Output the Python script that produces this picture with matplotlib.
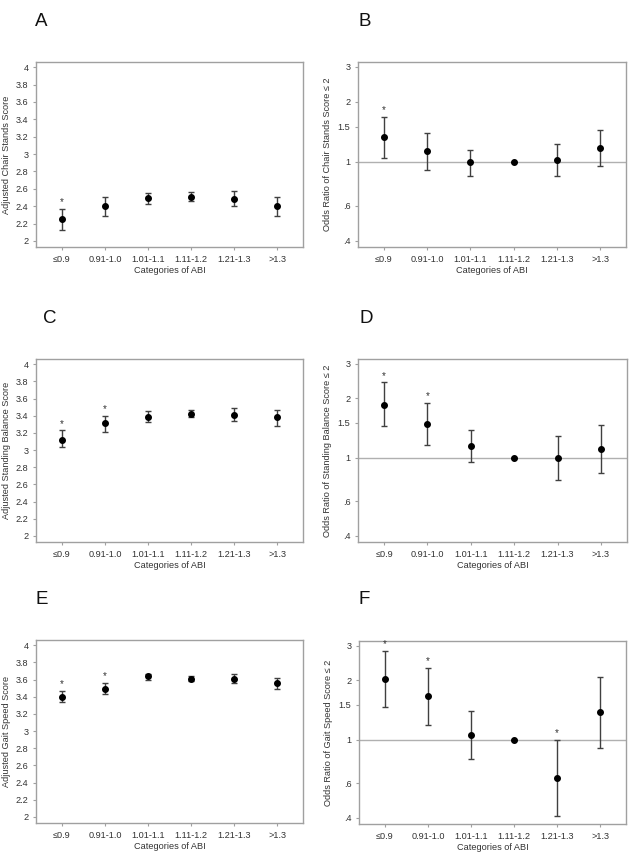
import matplotlib
matplotlib.use("Agg")
import matplotlib.pyplot as plt
import matplotlib.ticker as mticker
import numpy as np

plt.rcParams['font.family'] = ['Liberation Sans', 'DejaVu Sans']

categories = ["≤0.9", "0.91-1.0", "1.01-1.1", "1.11-1.2", "1.21-1.3", ">1.3"]

# Panel A: adjusted chair stands score
chair_mean = [2.25, 2.40, 2.49, 2.51, 2.48, 2.40]
chair_lo = [2.13, 2.29, 2.43, 2.46, 2.40, 2.29]
chair_hi = [2.37, 2.50, 2.55, 2.56, 2.57, 2.50]
chair_sig = [1, 0, 0, 0, 0, 0]

# Panel B: odds ratio chair stands score <= 2
chair_or = [1.33, 1.13, 0.99, 1.00, 1.02, 1.17]
chair_or_lo = [1.04, 0.91, 0.85, 1.00, 0.85, 0.95]
chair_or_hi = [1.68, 1.40, 1.14, 1.00, 1.22, 1.45]
chair_or_sig = [1, 0, 0, 0, 0, 0]

# Panel C: adjusted standing balance score
bal_mean = [3.12, 3.31, 3.39, 3.42, 3.41, 3.38]
bal_lo = [3.03, 3.21, 3.33, 3.38, 3.34, 3.28]
bal_hi = [3.23, 3.40, 3.45, 3.47, 3.49, 3.47]
bal_sig = [1, 1, 0, 0, 0, 0]

# Panel D: odds ratio standing balance score <= 2
bal_or = [1.86, 1.48, 1.15, 1.00, 0.99, 1.10]
bal_or_lo = [1.44, 1.16, 0.95, 1.00, 0.77, 0.83]
bal_or_hi = [2.42, 1.90, 1.38, 1.00, 1.28, 1.46]
bal_or_sig = [1, 1, 0, 0, 0, 0]

# Panel E: adjusted gait speed score
gait_mean = [3.40, 3.49, 3.64, 3.61, 3.61, 3.56]
gait_lo = [3.335, 3.43, 3.60, 3.58, 3.56, 3.49]
gait_hi = [3.47, 3.56, 3.67, 3.64, 3.66, 3.62]
gait_sig = [1, 1, 0, 0, 0, 0]

# Panel F: odds ratio gait speed score <= 2
gait_or = [2.02, 1.66, 1.06, 1.00, 0.64, 1.38]
gait_or_lo = [1.46, 1.19, 0.80, 1.00, 0.41, 0.91]
gait_or_hi = [2.83, 2.32, 1.39, 1.00, 1.00, 2.08]
gait_or_sig = [1, 1, 0, 0, 1, 0]

score_ticks = [2, 2.2, 2.4, 2.6, 2.8, 3, 3.2, 3.4, 3.6, 3.8, 4]
score_ticklabels = ["2", "2.2", "2.4", "2.6", "2.8", "3", "3.2", "3.4", "3.6", "3.8", "4"]
or_ticks = [0.4, 0.6, 1, 1.5, 2, 3]
or_ticklabels = [".4", ".6", "1", "1.5", "2", "3"]

TEXT = "#333333"
EDGE = "#a0a0a0"
BAR = "#404040"
FS = 6.6

W, H = 634, 867
fig = plt.figure(figsize=(W / 100, H / 100), dpi=100)


def make_ax(x0, x1, y0, y1):
    return fig.add_axes([x0 / W, 1 - y1 / H, (x1 - x0) / W, (y1 - y0) / H])


def style(ax):
    for s in ax.spines.values():
        s.set_color(EDGE)
        s.set_linewidth(1.0)
    ax.tick_params(axis='both', colors=EDGE, labelcolor=TEXT, labelsize=FS,
                   length=2.5, width=0.8, pad=3)
    ax.set_xticks(range(len(categories)))
    ax.set_xticklabels(categories)
    ax.tick_params(axis='x', pad=3.5)
    ax.set_xlim(-0.6, len(categories) - 0.4)
    ax.set_xlabel("Categories of ABI", fontsize=FS, color=TEXT, labelpad=1.5)


def draw(ax, m, lo, hi, sig):
    x = np.arange(len(m))
    m = np.array(m); lo = np.array(lo); hi = np.array(hi)
    ax.errorbar(x, m, yerr=[m - lo, hi - m], fmt='o', color='black', ms=4,
                ecolor=BAR, elinewidth=1.0, capsize=2.2, capthick=1.0, zorder=3)
    for i, s in enumerate(sig):
        if s:
            ax.annotate("*", xy=(i, hi[i]), xytext=(0, 2.5), textcoords='offset points',
                        ha='center', va='baseline', fontsize=7, color=TEXT,
                        annotation_clip=False)


def score_panel(ax, m, lo, hi, sig, ylabel):
    style(ax)
    draw(ax, m, lo, hi, sig)
    ax.set_ylim(1.93, 4.06)
    ax.set_yticks(score_ticks)
    ax.set_yticklabels(score_ticklabels)
    ax.set_ylabel(ylabel, fontsize=FS, color=TEXT, labelpad=3)


def or_panel(ax, m, lo, hi, sig, ylabel):
    style(ax)
    ax.set_yscale('log')
    ax.axhline(1, color="#b0b0b0", lw=1.0, zorder=1)
    draw(ax, m, lo, hi, sig)
    ax.set_ylim(0.372, 3.17)
    ax.yaxis.set_major_locator(mticker.FixedLocator(or_ticks))
    ax.yaxis.set_major_formatter(mticker.FixedFormatter(or_ticklabels))
    ax.yaxis.set_minor_locator(mticker.NullLocator())
    ax.set_ylabel(ylabel, fontsize=FS, color=TEXT, labelpad=4)


axA = make_ax(36, 303, 62, 247)
axB = make_ax(358, 626, 62, 247)
axC = make_ax(36, 303, 359, 542)
axD = make_ax(358, 627, 359, 542)
axE = make_ax(36, 303, 640, 823)
axF = make_ax(359, 626, 641, 824)

score_panel(axA, chair_mean, chair_lo, chair_hi, chair_sig, "Adjusted Chair Stands Score")
or_panel(axB, chair_or, chair_or_lo, chair_or_hi, chair_or_sig, "Odds Ratio of Chair Stands Score ≤ 2")
score_panel(axC, bal_mean, bal_lo, bal_hi, bal_sig, "Adjusted Standing Balance Score")
or_panel(axD, bal_or, bal_or_lo, bal_or_hi, bal_or_sig, "Odds Ratio of Standing Balance Score ≤ 2")
score_panel(axE, gait_mean, gait_lo, gait_hi, gait_sig, "Adjusted Gait Speed Score")
or_panel(axF, gait_or, gait_or_lo, gait_or_hi, gait_or_sig, "Odds Ratio of Gait Speed Score ≤ 2")

letters = [("A", 41, 22), ("B", 365, 22), ("C", 50, 318), ("D", 366, 318), ("E", 42, 600), ("F", 364, 600)]
for t, x, y in letters:
    fig.text(x / W, 1 - y / H, t, fontsize=13.5, color="#111111", ha='center', va='center')

fig.savefig("out.png", dpi=100)
